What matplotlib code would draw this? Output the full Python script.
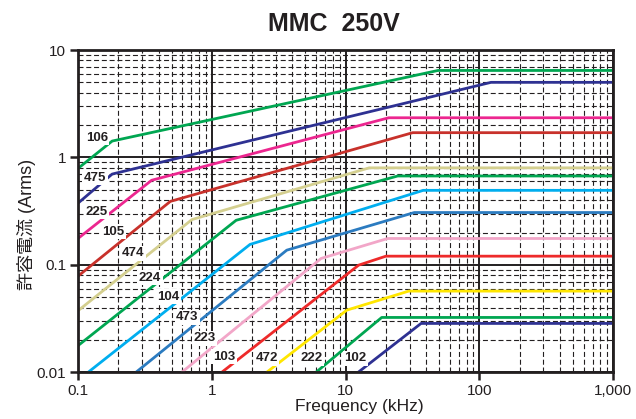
import matplotlib
matplotlib.use("Agg")
import matplotlib.pyplot as plt
from matplotlib.ticker import FixedLocator, FixedFormatter, LogLocator, NullFormatter

plt.rcParams['font.family'] = ['Liberation Sans', 'Noto Sans CJK JP', 'DejaVu Sans']

# ---- data ----
labels = ["106", "475", "225", "105", "474", "224", "104", "473", "223", "103", "472", "222", "102"]

f_106 = [0.1, 0.18, 49, 1000];   i_106 = [0.79, 1.42, 6.45, 6.45]
f_475 = [0.1, 0.18, 122, 1000];  i_475 = [0.375, 0.70, 5.0, 5.0]
f_225 = [0.1, 0.355, 21, 1000];  i_225 = [0.176, 0.613, 2.34, 2.34]
f_105 = [0.1, 0.49, 31.7, 1000]; i_105 = [0.0785, 0.39, 1.70, 1.70]
f_474 = [0.1, 0.71, 15, 1000];   i_474 = [0.0374, 0.264, 0.80, 0.80]
f_224 = [0.1, 1.52, 24.5, 1000]; i_224 = [0.0177, 0.26, 0.672, 0.672]
f_104 = [0.119, 1.93, 38, 1000]; i_104 = [0.01, 0.155, 0.494, 0.494]
f_473 = [0.271, 3.63, 32.6, 1000]; i_473 = [0.01, 0.137, 0.307, 0.307]
f_223 = [0.596, 6.55, 20.6, 1000]; i_223 = [0.01, 0.1147, 0.176, 0.176]
f_103 = [1.186, 12.5, 20, 1000]; i_103 = [0.01, 0.0994, 0.1205, 0.1205]
f_472 = [2.57, 10.2, 29.6, 1000]; i_472 = [0.01, 0.0379, 0.057, 0.057]
f_222 = [6.0, 18.6, 1000];       i_222 = [0.01, 0.0324, 0.0324]
f_102 = [12.4, 36.6, 1000];      i_102 = [0.01, 0.0285, 0.0285]

freqs = [f_106, f_475, f_225, f_105, f_474, f_224, f_104, f_473, f_223, f_103, f_472, f_222, f_102]
currents = [i_106, i_475, i_225, i_105, i_474, i_224, i_104, i_473, i_223, i_103, i_472, i_222, i_102]

colors = ["#00A651", "#2E3192", "#EC268F", "#C8312B", "#D4CF8F", "#00A651", "#00AEEF",
          "#2B7BC0", "#F2A6C8", "#EE2A2A", "#FFE600", "#00A651", "#2E3192"]

# label anchor positions (data coords)
label_f = [0.138, 0.134, 0.138, 0.1836, 0.259, 0.345, 0.473, 0.656, 0.885, 1.234, 2.57, 5.58, 11.8]
label_i = [1.528, 0.649, 0.311, 0.2026, 0.1276, 0.0757, 0.0504, 0.0324, 0.0207, 0.01396, 0.0135, 0.0135, 0.0135]

xticks = [0.1, 1, 10, 100, 1000]
xticklabels = ["0.1", "1", "10", "100", "1,000"]
yticks = [0.01, 0.1, 1, 10]
yticklabels = ["0.01", "0.1", "1", "10"]

# ---- figure ----
fig = plt.figure(figsize=(6.36, 4.19), dpi=100)
ax = fig.add_axes([78 / 636, 1 - 372.3 / 419, (613.3 - 78) / 636, (372.3 - 50) / 419])

ax.set_xscale('log')
ax.set_yscale('log')
ax.set_xlim(0.1, 1000)
ax.set_ylim(0.01, 10)

for f, cur, c in zip(freqs, currents, colors):
    ax.plot(f, cur, color=c, lw=2.0, solid_capstyle='butt', zorder=3)

for lab, x, y in zip(labels, label_f, label_i):
    ax.text(x, y, lab, ha='center', va='center', fontsize=9.5, fontweight='bold',
            color='#231F20', zorder=4,
            bbox=dict(facecolor='white', edgecolor='none', pad=1.0))

ax.xaxis.set_major_locator(FixedLocator(xticks))
ax.xaxis.set_major_formatter(FixedFormatter(xticklabels))
ax.yaxis.set_major_locator(FixedLocator(yticks))
ax.yaxis.set_major_formatter(FixedFormatter(yticklabels))
ax.xaxis.set_minor_locator(LogLocator(base=10, subs=range(2, 10), numticks=20))
ax.yaxis.set_minor_locator(LogLocator(base=10, subs=range(2, 10), numticks=20))
ax.xaxis.set_minor_formatter(NullFormatter())
ax.yaxis.set_minor_formatter(NullFormatter())

ax.grid(True, which='major', color='#231F20', lw=1.4, ls='-', zorder=1)
ax.grid(True, which='minor', color='#231F20', lw=0.8, ls=(0, (4.5, 2.5)), zorder=1)
ax.set_axisbelow(True)

ax.tick_params(which='major', direction='out', length=6, width=1.8, labelsize=11,
               color='#231F20', labelcolor='#231F20', pad=2.5)
ax.tick_params(which='minor', length=0)
for s in ax.spines.values():
    s.set_linewidth(2.0)
    s.set_color('#231F20')
    s.set_zorder(5)

fig.text(334 / 636, 1 - 24 / 419, "MMC  250V", ha='center', va='center',
         fontsize=18, fontweight='bold', color='#231F20')
fig.text(359 / 636, 1 - 406 / 419, "Frequency (kHz)", ha='center', va='center',
         fontsize=12.5, color='#231F20')
fig.text(27 / 636, 1 - 224 / 419, "許容電流 (Arms)", ha='center', va='center',
         rotation=90, fontsize=13, color='#231F20')

fig.savefig("out.png", dpi=100)
